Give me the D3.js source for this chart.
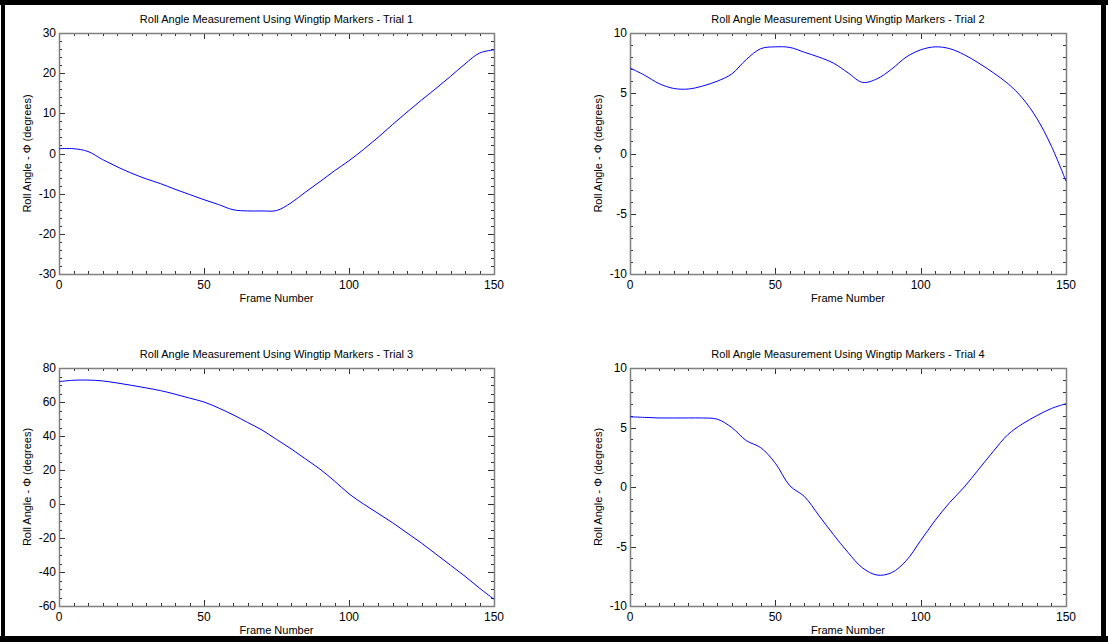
<!DOCTYPE html>
<html>
<head>
<meta charset="utf-8">
<script src="https://cdn.jsdelivr.net/npm/d3@7"></script>
<style>
  html, body { margin: 0; padding: 0; background: #fff; }
  svg { display: block; }
  text { font-family: Arial, "Liberation Sans", sans-serif; fill: #000; }
</style>
</head>
<body>
<svg id="fig" width="1108" height="642"></svg>
<script>
// Roll angle samples, one value every 5 frames (frames 0..150)
const frames = d3.range(0, 151, 5);
const trial1 = [1.2, 1.2, 0.5, -1.5, -3.3, -4.9, -6.3, -7.5, -8.9, -10.2, -11.5, -12.7, -14.0, -14.3, -14.3, -14.2,
                -12.3, -9.6, -7.0, -4.3, -1.8, 1.0, 4.0, 7.2, 10.3, 13.3, 16.2, 19.2, 22.3, 25.0, 25.8];
const trial2 = [7.1, 6.5, 5.8, 5.4, 5.35, 5.6, 6.0, 6.6, 7.8, 8.7, 8.85, 8.8, 8.4, 8.0, 7.5, 6.7,
                5.9, 6.2, 7.0, 8.0, 8.6, 8.85, 8.7, 8.2, 7.5, 6.7, 5.8, 4.6, 2.9, 0.6, -2.3];
const trial3 = [72, 72.8, 72.9, 72.4, 71.2, 69.8, 68.3, 66.7, 64.6, 62.3, 60, 56.5, 52.5, 48, 43.5, 38,
                32.5, 26.5, 20.5, 13.5, 6, 0, -5.5, -11, -17, -23, -29.5, -36, -42.5, -49.5, -56];
const trial4 = [5.9, 5.85, 5.8, 5.8, 5.8, 5.8, 5.7, 5.0, 3.9, 3.3, 2.0, 0.1, -0.8, -2.4, -4.0, -5.5,
                -6.8, -7.4, -7.2, -6.2, -4.5, -2.8, -1.3, 0, 1.5, 3.0, 4.4, 5.3, 6.0, 6.6, 7.0];

// Axis ranges and tick labels
const xTicks = [0, 50, 100, 150];
const yTicks1 = [-30, -20, -10, 0, 10, 20, 30];
const yTicks2 = [-10, -5, 0, 5, 10];
const yTicks3 = [-60, -40, -20, 0, 20, 40, 60, 80];
const yTicks4 = [-10, -5, 0, 5, 10];
const titles = [
  "Roll Angle Measurement Using Wingtip Markers - Trial 1",
  "Roll Angle Measurement Using Wingtip Markers - Trial 2",
  "Roll Angle Measurement Using Wingtip Markers - Trial 3",
  "Roll Angle Measurement Using Wingtip Markers - Trial 4"
];
const xLabel = "Frame Number";
const yLabel = "Roll Angle - \u03A6 (degrees)";

const svg = d3.select("#fig");

// Panel frames (pixel boxes of the plotting areas)
const panels = [
  {x0: 59,  x1: 494,  y0: 33,  y1: 274, values: trial1, yTicks: yTicks1, minorStep: 2, title: titles[0]},
  {x0: 630, x1: 1066, y0: 33,  y1: 274, values: trial2, yTicks: yTicks2, minorStep: 1, title: titles[1]},
  {x0: 59,  x1: 494,  y0: 368, y1: 606, values: trial3, yTicks: yTicks3, minorStep: 5, title: titles[2]},
  {x0: 630, x1: 1066, y0: 368, y1: 606, values: trial4, yTicks: yTicks4, minorStep: 1, title: titles[3]}
];

const axisColor = "#7f7f7f";
const tickColor = "#303030";

panels.forEach(p => {
  const x = d3.scaleLinear().domain([0, 150]).range([p.x0, p.x1]);
  const yDom = d3.extent(p.yTicks);
  const y = d3.scaleLinear().domain(yDom).range([p.y1, p.y0]);
  const g = svg.append("g");

  const xMinor = d3.range(0, 150.001, 5).filter(v => !xTicks.includes(v));
  const yMinor = d3.range(yDom[0], yDom[1] + 1e-6, p.minorStep).filter(v => !p.yTicks.some(t => Math.abs(t - v) < 1e-6));

  // inward ticks on all four sides
  const tg = g.append("g").attr("stroke", tickColor).attr("stroke-width", 1).attr("shape-rendering", "crispEdges");
  const drawX = (vals, len) => {
    vals.forEach(v => {
      const px = Math.round(x(v)) + 0.5;
      tg.append("line").attr("x1", px).attr("x2", px).attr("y1", p.y1).attr("y2", p.y1 - len);
      tg.append("line").attr("x1", px).attr("x2", px).attr("y1", p.y0).attr("y2", p.y0 + len);
    });
  };
  const drawY = (vals, len) => {
    vals.forEach(v => {
      const py = Math.round(y(v)) + 0.5;
      tg.append("line").attr("y1", py).attr("y2", py).attr("x1", p.x0).attr("x2", p.x0 + len);
      tg.append("line").attr("y1", py).attr("y2", py).attr("x1", p.x1).attr("x2", p.x1 - len);
    });
  };
  drawX(xMinor, 3);
  drawX(xTicks, 6);
  drawY(yMinor, 3);
  drawY(p.yTicks, 6);

  // axis box
  g.append("rect")
    .attr("x", p.x0 + 0.5).attr("y", p.y0 + 0.5)
    .attr("width", p.x1 - p.x0).attr("height", p.y1 - p.y0)
    .attr("fill", "none").attr("stroke", axisColor).attr("stroke-width", 1.5);

  // data line
  const line = d3.line()
    .x((d, i) => x(frames[i]))
    .y(d => y(d))
    .curve(d3.curveCatmullRom.alpha(0.5));
  g.append("path")
    .datum(p.values)
    .attr("d", line)
    .attr("fill", "none")
    .attr("stroke", "#0000ff")
    .attr("stroke-width", 1);

  // tick labels
  g.selectAll(".xl").data(xTicks).enter().append("text")
    .attr("x", d => x(d)).attr("y", p.y1 + 15)
    .attr("text-anchor", "middle").attr("font-size", 12)
    .text(d => d);
  g.selectAll(".yl").data(p.yTicks).enter().append("text")
    .attr("x", p.x0 - 3).attr("y", d => y(d) + 4)
    .attr("text-anchor", "end").attr("font-size", 12)
    .text(d => d);

  // titles and axis names
  g.append("text")
    .attr("x", (p.x0 + p.x1) / 2).attr("y", p.y0 - 10)
    .attr("text-anchor", "middle").attr("font-size", 11)
    .text(p.title);
  g.append("text")
    .attr("x", (p.x0 + p.x1) / 2).attr("y", p.y1 + 28)
    .attr("text-anchor", "middle").attr("font-size", 11)
    .text(xLabel);
  g.append("text")
    .attr("transform", `translate(${p.x0 - 28},${(p.y0 + p.y1) / 2}) rotate(-90)`)
    .attr("text-anchor", "middle").attr("font-size", 11)
    .text(yLabel);
});

// heavy black frame around the figure
svg.append("rect").attr("x", 0).attr("y", 0).attr("width", 1108).attr("height", 5).attr("fill", "#000");
svg.append("rect").attr("x", 1).attr("y", 0).attr("width", 4).attr("height", 642).attr("fill", "#000");
svg.append("rect").attr("x", 0).attr("y", 636).attr("width", 1108).attr("height", 6).attr("fill", "#000");
svg.append("rect").attr("x", 1101).attr("y", 0).attr("width", 5).attr("height", 642).attr("fill", "#000");
</script>
</body>
</html>
